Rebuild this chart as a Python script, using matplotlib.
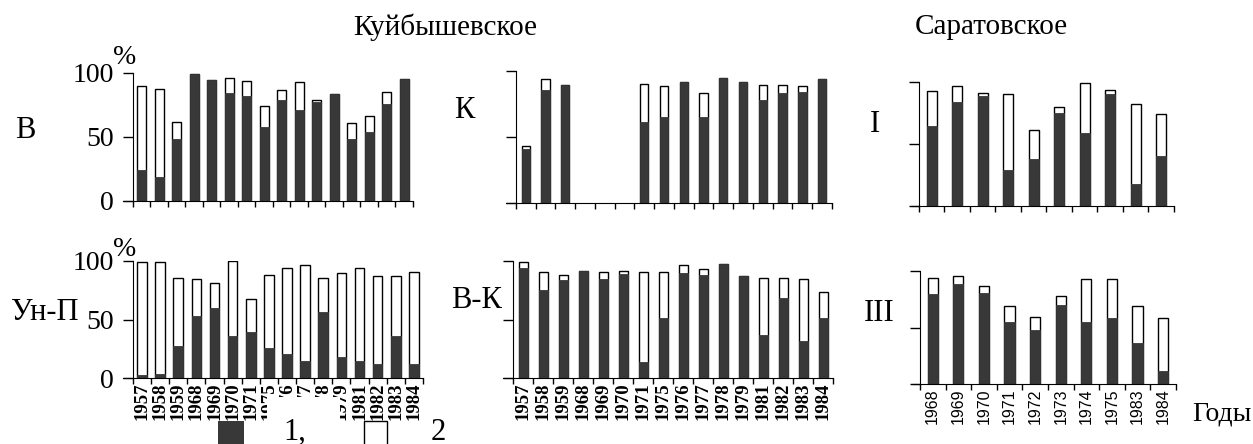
import numpy as np
import matplotlib
matplotlib.use("Agg")
import matplotlib.pyplot as plt
from matplotlib.patches import Rectangle

W, H = 1253, 444
DARK = "#383838"
SERIF = "Liberation Serif"
SANS = "Liberation Sans"

years_kuib = ["1957", "1958", "1959", "1968", "1969", "1970", "1971", "1975",
              "1976", "1977", "1978", "1979", "1981", "1982", "1983", "1984"]
years_sar = ["1968", "1969", "1970", "1971", "1972", "1973", "1974", "1975",
             "1983", "1984"]

# Куйбышевское, В
v_total = [89.6, 87.2, 61.5, 99.0, 94.3, 96.4, 93.8, 74.2,
           86.5, 93.0, 78.6, 83.3, 61.0, 66.4, 85.2, 95.0]
v_black = [24.5, 18.8, 48.7, 99.0, 94.3, 84.4, 82.0, 58.0,
           79.2, 71.4, 77.3, 83.3, 48.7, 53.9, 76.0, 95.0]
# Куйбышевское, Ун-П
unp_total = [99.4, 98.9, 85.8, 84.7, 81.0, 100.0, 67.9, 88.4,
             94.0, 96.6, 85.8, 89.5, 93.8, 87.0, 87.0, 91.0]
unp_black = [2.6, 3.7, 27.6, 52.6, 59.7, 36.0, 39.5, 25.3,
             20.5, 14.5, 56.0, 18.2, 14.5, 12.2, 36.0, 12.2]
# Куйбышевское, К (no data for 1968-1970)
k_total = [43.2, 93.7, 89.7, 0, 0, 0, 90.5, 88.4,
           91.7, 83.4, 95.0, 91.7, 89.7, 89.7, 88.4, 93.7]
k_black = [40.7, 85.4, 89.7, 0, 0, 0, 61.3, 65.3,
           91.7, 65.3, 95.0, 91.7, 77.9, 83.4, 84.2, 93.7]
# Куйбышевское, В-К
vk_total = [98.9, 90.6, 88.4, 91.8, 90.6, 91.8, 90.3, 90.6,
            96.9, 93.2, 97.7, 86.9, 85.8, 85.8, 84.7, 73.9]
vk_black = [94.3, 75.3, 83.8, 91.8, 84.9, 88.6, 13.4, 51.4,
            89.5, 88.4, 97.7, 86.9, 36.9, 68.2, 31.3, 51.4]
# Саратовское, I
s1_total = [92.5, 97.0, 91.4, 90.3, 60.9, 80.1, 99.2, 93.5, 82.5, 74.4]
s1_black = [64.2, 83.8, 88.4, 29.1, 38.3, 74.7, 58.8, 90.6, 18.1, 40.4]
# Саратовское, III
s3_total = [94.1, 95.6, 86.7, 69.0, 59.3, 77.9, 92.9, 92.9, 69.0, 58.1]
s3_black = [79.4, 88.2, 80.8, 54.9, 47.5, 69.6, 54.9, 58.4, 36.0, 11.5]

fig = plt.figure(figsize=(W / 100, H / 100), dpi=100)


def px_axes(x0, y0, x1, y1):
    return fig.add_axes([x0 / W, 1 - y1 / H, (x1 - x0) / W, (y1 - y0) / H])


def draw_panel(ax, total, black, width, x_left, labels=None, ylabels=False,
               label_font=SERIF, label_size=13.5, label_weight="bold"):
    total = np.asarray(total, float)
    black = np.asarray(black, float)
    n = len(total)
    x = np.arange(n)
    has = total > 0  # skip years without data
    ax.bar(x[has], total[has], width, facecolor="white", edgecolor="black", lw=1.0)
    ax.bar(x[has], black[has], width, facecolor=DARK, edgecolor=DARK, lw=0.6)
    ax.set_xlim(x_left, n - 0.5)
    ax.set_ylim(0, 100)
    for s in ("top", "right"):
        ax.spines[s].set_visible(False)
    ax.spines["left"].set_position(("data", -0.5))
    ax.spines["left"].set_bounds(0, 100)
    ax.set_xticks(np.arange(n + 1) - 0.5)
    ax.set_xticklabels([])
    ax.tick_params(axis="x", which="major", direction="out", length=4.5, width=1)
    ax.set_yticks([0, 50, 100])
    ax.tick_params(axis="y", direction="out", length=7, width=1)
    if ylabels:
        ax.set_yticklabels(["0", "50", "100"], family=SERIF, fontsize=20)
        ax.tick_params(axis="y", pad=7)
    else:
        ax.set_yticklabels([])
    if labels is not None:
        ax.set_xticks(x, minor=True)
        ax.set_xticklabels(labels, minor=True, rotation=90, family=label_font,
                           fontsize=label_size, weight=label_weight)
        ax.tick_params(axis="x", which="minor", length=0, pad=3)


ax1 = px_axes(123, 73, 413, 201)
draw_panel(ax1, v_total, v_black, 0.53, -1.07, ylabels=True)
ax2 = px_axes(123, 261, 423, 378)
draw_panel(ax2, unp_total, unp_black, 0.53, -1.05, labels=years_kuib, ylabels=True)
ax3 = px_axes(506, 71, 832, 203)
draw_panel(ax3, k_total, k_black, 0.42, -1.0)
ax4 = px_axes(503, 261, 833, 378)
draw_panel(ax4, vk_total, vk_black, 0.45, -1.0, labels=years_kuib)
ax5 = px_axes(912, 82, 1174, 206)
draw_panel(ax5, s1_total, s1_black, 0.4, -0.77)
ax6 = px_axes(913, 271, 1176, 384)
draw_panel(ax6, s3_total, s3_black, 0.4, -0.77, labels=years_sar,
           label_font=SANS, label_size=11.5, label_weight="normal")


def ftext(x, y, s, size, **kw):
    fig.text(x / W, 1 - y / H, s, fontsize=size, family=SERIF,
             ha=kw.pop("ha", "center"), va=kw.pop("va", "center"), **kw)


ftext(445, 27, "Куйбышевское", 21)
ftext(991, 27, "Саратовское", 21)
ftext(125, 57, "%", 20)
ftext(125, 249, "%", 20)
ftext(25, 131, "В", 22)
ftext(45, 312, "Ун-П", 22)
ftext(464, 110, "К", 22)
ftext(477, 300, "В-К", 22)
ftext(875, 124, "I", 22)
ftext(879, 313, "III", 22)
ftext(1222, 414, "Годы", 20)

# legend: 1 - black, 2 - white
fig.patches.append(Rectangle((267 / W, 0), 73 / W, 1 - 397 / H,
                             transform=fig.transFigure, facecolor="white",
                             edgecolor="none", zorder=5))
fig.patches.append(Rectangle((218 / W, 0), 26 / W, 1 - 421 / H,
                             transform=fig.transFigure, facecolor=DARK,
                             edgecolor="none", zorder=6))
fig.patches.append(Rectangle((364 / W, -0.01), 23 / W, 1 - 421 / H + 0.01,
                             transform=fig.transFigure, facecolor="white",
                             edgecolor="black", lw=1, zorder=6))
ftext(295, 432, "1,", 22, zorder=7)
ftext(438, 432, "2", 22, zorder=7)

fig.savefig("out.png", dpi=100)
